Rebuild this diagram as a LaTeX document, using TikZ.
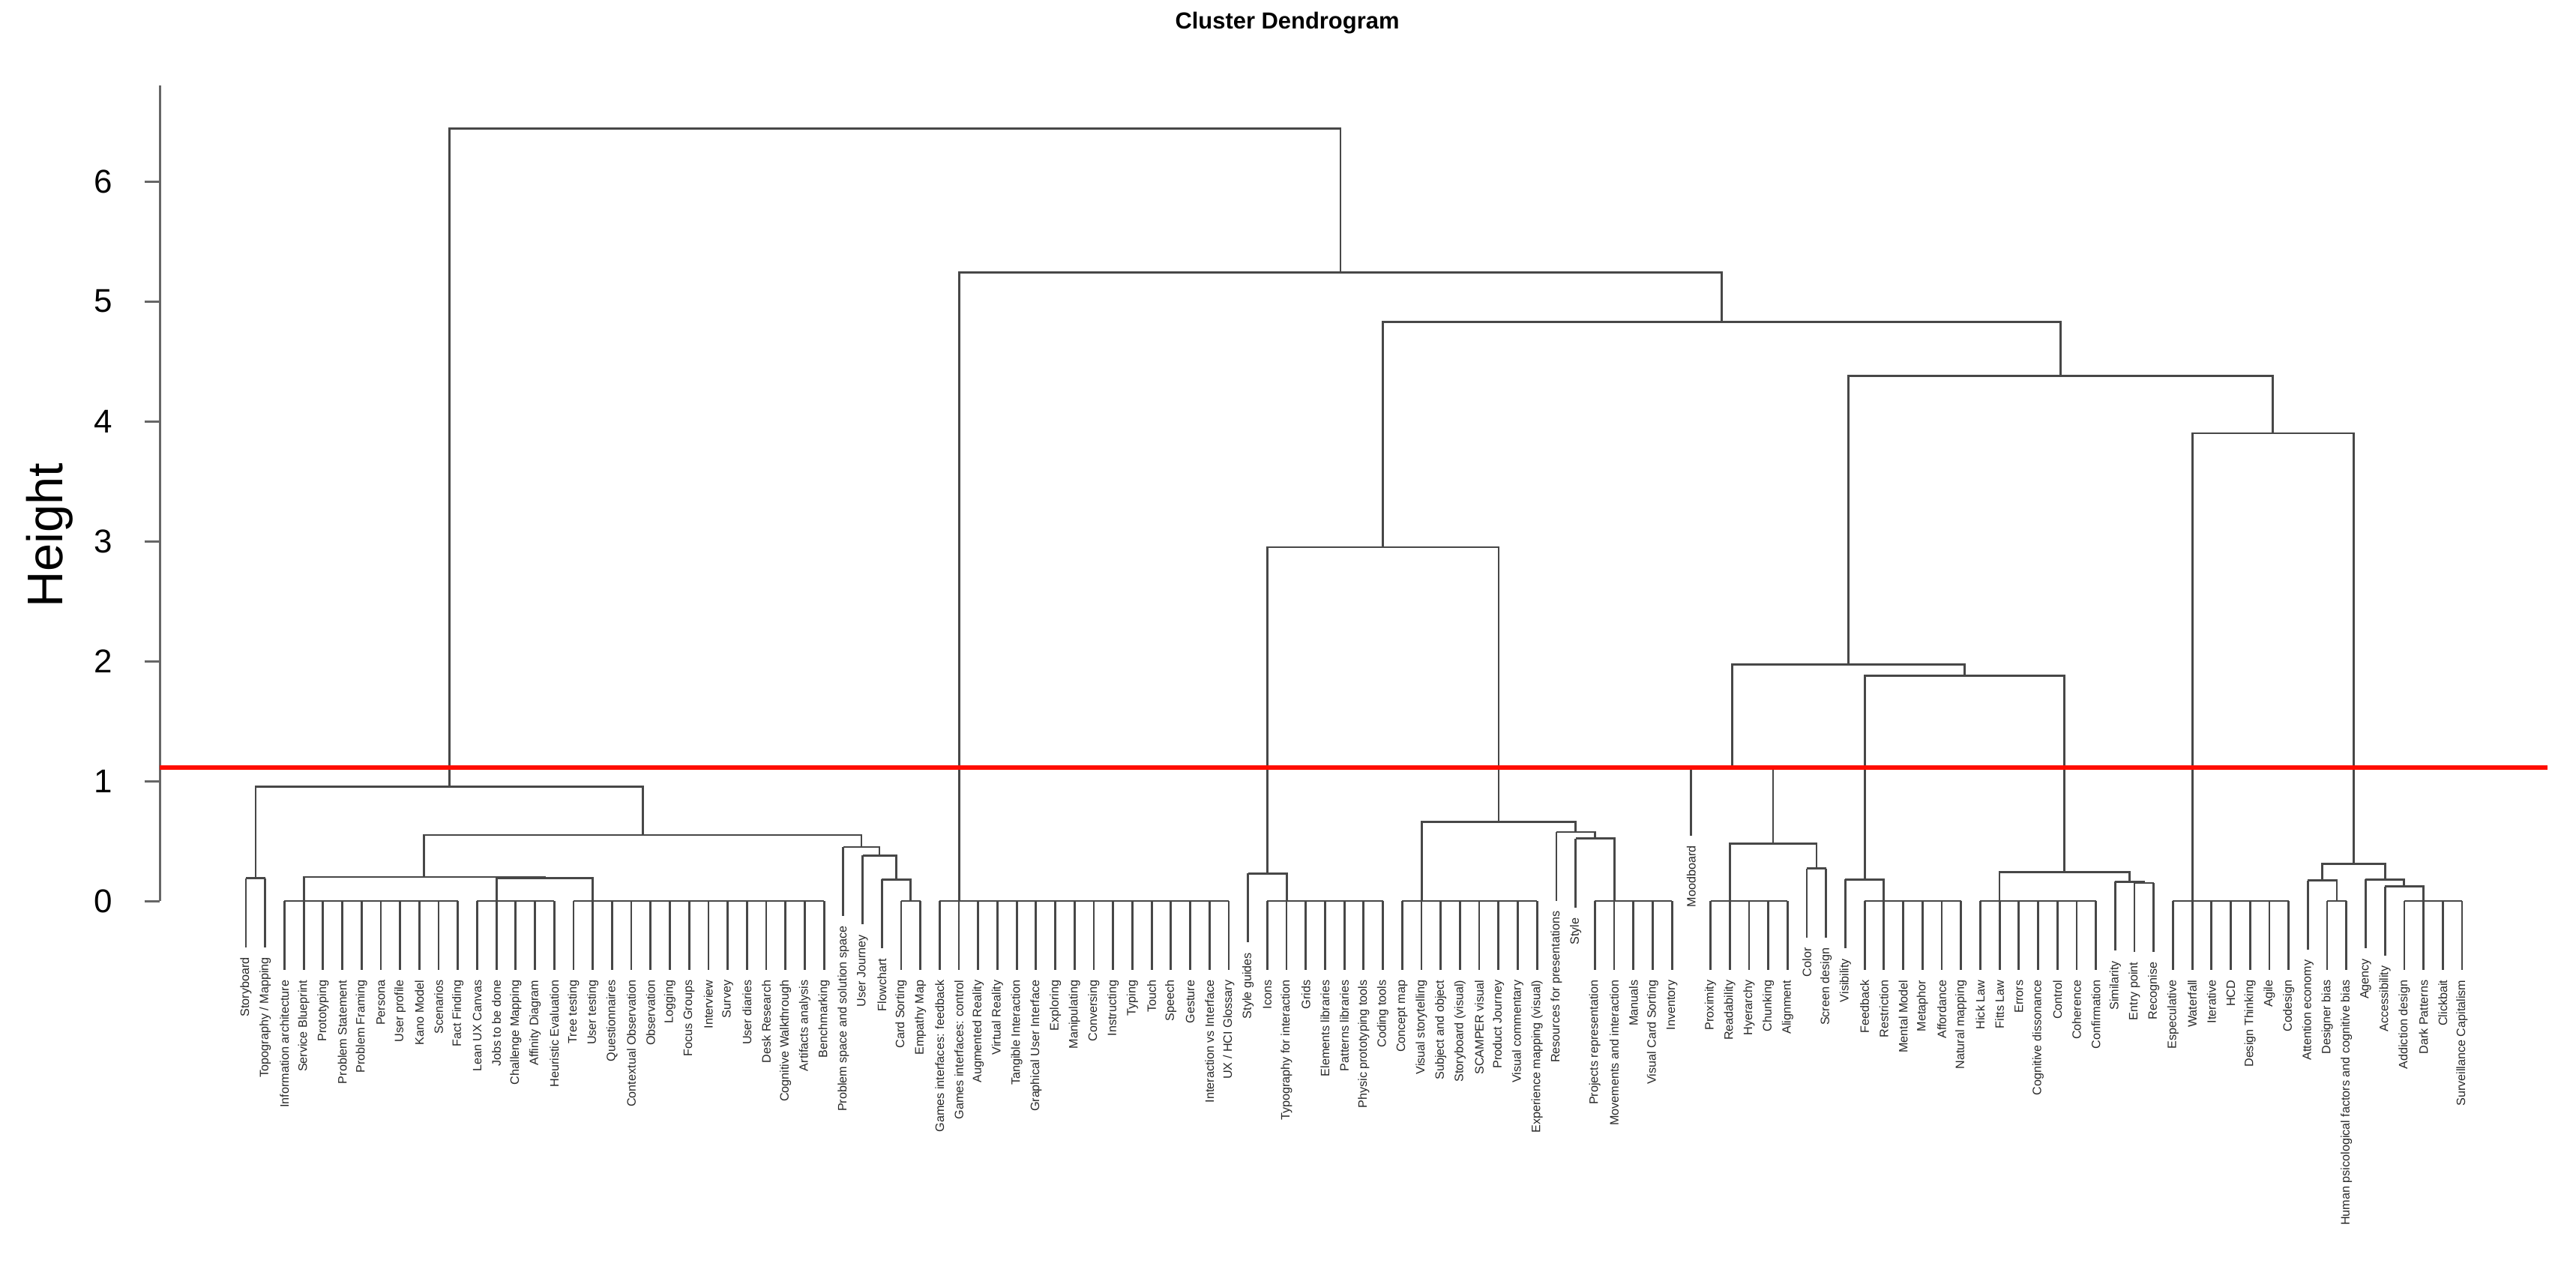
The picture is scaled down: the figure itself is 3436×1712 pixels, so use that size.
\documentclass[tikz,border=0pt]{standalone}
\usepackage{fontspec}
\setmainfont{Liberation Sans}
\begin{document}
\begin{tikzpicture}[x=0.1mm,y=-0.1mm,
  br/.style={draw=black!72,line width=0.28mm},
  lab/.style={rotate=90,anchor=east,inner sep=0pt,font=\fontsize{4.6pt}{5pt}\selectfont,text=black!85},
  tick/.style={font=\fontsize{12.5pt}{14pt}\selectfont},
  cut/.style={draw=red!90!orange,line width=0.65mm}]
\useasboundingbox (0,0) rectangle (3436,1712);
\newcommand\LX[1]{328+(#1-1)*25.704}
\newcommand\lf[3]{\draw[br] ({\LX{#1}},{1202-160*#2}) -- ({\LX{#1}},{1294-160*#2});
  \node[lab] (n#1) at ({\LX{#1}},{1307-160*#2}) {#3};}
\newcommand\grp[2]{\draw[br] ({\LX{#1}},1202) -- ({\LX{#2}},1202);}
\newcommand\mg[5]{\draw[br] ({#1},{1202-160*#2}) |- ({#3},{1202-160*#5}) -- ({#3},{1202-160*#4});}
% title and axis
\node[font=\bfseries\fontsize{8.8pt}{10pt}\selectfont] (title) at (1717,31) {Cluster Dendrogram};
\node[rotate=90,font=\fontsize{19pt}{22pt}\selectfont] (ylab) at (66,714) {Height};
\draw[draw=black!60,line width=0.3mm] (213,1202) -- (213,114);
\foreach \v in {0,...,6}{
  \draw[draw=black!60,line width=0.3mm] (193,{1202-160*\v}) -- (213,{1202-160*\v});
  \node[tick] (t\v) at (138,{1202-160*\v}) {\v};}
% leaves
\lf{1}{0.19}{Storyboard}
\lf{2}{0.19}{Topography / Mapping}
\lf{3}{0}{Information architecture}
\lf{4}{0}{Service Blueprint}
\lf{5}{0}{Prototyping}
\lf{6}{0}{Problem Statement}
\lf{7}{0}{Problem Framing}
\lf{8}{0}{Persona}
\lf{9}{0}{User profile}
\lf{10}{0}{Kano Model}
\lf{11}{0}{Scenarios}
\lf{12}{0}{Fact Finding}
\lf{13}{0}{Lean UX Canvas}
\lf{14}{0}{Jobs to be done}
\lf{15}{0}{Challenge Mapping}
\lf{16}{0}{Affinity Diagram}
\lf{17}{0}{Heuristic Evaluation}
\lf{18}{0}{Tree testing}
\lf{19}{0}{User testing}
\lf{20}{0}{Questionnaires}
\lf{21}{0}{Contextual Observation}
\lf{22}{0}{Observation}
\lf{23}{0}{Logging}
\lf{24}{0}{Focus Groups}
\lf{25}{0}{Interview}
\lf{26}{0}{Survey}
\lf{27}{0}{User diaries}
\lf{28}{0}{Desk Research}
\lf{29}{0}{Cognitive Walkthrough}
\lf{30}{0}{Artifacts analysis}
\lf{31}{0}{Benchmarking}
\lf{32}{0.45}{Problem space and solution space}
\lf{33}{0.38}{User Journey}
\lf{34}{0.18}{Flowchart}
\lf{35}{0}{Card Sorting}
\lf{36}{0}{Empathy Map}
\lf{37}{0}{Games interfaces: feedback}
\lf{38}{0}{Games interfaces: control}
\lf{39}{0}{Augmented Reality}
\lf{40}{0}{Virtual Reality}
\lf{41}{0}{Tangible Interaction}
\lf{42}{0}{Graphical User Interface}
\lf{43}{0}{Exploring}
\lf{44}{0}{Manipulating}
\lf{45}{0}{Conversing}
\lf{46}{0}{Instructing}
\lf{47}{0}{Typing}
\lf{48}{0}{Touch}
\lf{49}{0}{Speech}
\lf{50}{0}{Gesture}
\lf{51}{0}{Interaction vs Interface}
\lf{52}{0}{UX / HCI Glossary}
\lf{53}{0.23}{Style guides}
\lf{54}{0}{Icons}
\lf{55}{0}{Typography for interaction}
\lf{56}{0}{Grids}
\lf{57}{0}{Elements libraries}
\lf{58}{0}{Patterns libraries}
\lf{59}{0}{Physic prototyping tools}
\lf{60}{0}{Coding tools}
\lf{61}{0}{Concept map}
\lf{62}{0}{Visual storytelling}
\lf{63}{0}{Subject and object}
\lf{64}{0}{Storyboard (visual)}
\lf{65}{0}{SCAMPER visual}
\lf{66}{0}{Product Journey}
\lf{67}{0}{Visual commentary}
\lf{68}{0}{Experience mapping (visual)}
\lf{69}{0.575}{Resources for presentations}
\lf{70}{0.52}{Style}
\lf{71}{0}{Projects representation}
\lf{72}{0}{Movements and interaction}
\lf{73}{0}{Manuals}
\lf{74}{0}{Visual Card Sorting}
\lf{75}{0}{Inventory}
\lf{76}{1.12}{Moodboard}
\lf{77}{0}{Proximity}
\lf{78}{0}{Readability}
\lf{79}{0}{Hyerarchy}
\lf{80}{0}{Chunking}
\lf{81}{0}{Alignment}
\lf{82}{0.27}{Color}
\lf{83}{0.27}{Screen design}
\lf{84}{0.18}{Visibility}
\lf{85}{0}{Feedback}
\lf{86}{0}{Restriction}
\lf{87}{0}{Mental Model}
\lf{88}{0}{Metaphor}
\lf{89}{0}{Affordance}
\lf{90}{0}{Natural mapping}
\lf{91}{0}{Hick Law}
\lf{92}{0}{Fitts Law}
\lf{93}{0}{Errors}
\lf{94}{0}{Cognitive dissonance}
\lf{95}{0}{Control}
\lf{96}{0}{Coherence}
\lf{97}{0}{Confirmation}
\lf{98}{0.16}{Similarity}
\lf{99}{0.15}{Entry point}
\lf{100}{0.15}{Recognise}
\lf{101}{0}{Especulative}
\lf{102}{0}{Waterfall}
\lf{103}{0}{Iterative}
\lf{104}{0}{HCD}
\lf{105}{0}{Design Thinking}
\lf{106}{0}{Agile}
\lf{107}{0}{Codesign}
\lf{108}{0.17}{Attention economy}
\lf{109}{0}{Designer bias}
\lf{110}{0}{Human psicological factors and cognitive bias}
\lf{111}{0.18}{Agency}
\lf{112}{0.12}{Accessibility}
\lf{113}{0}{Addiction design}
\lf{114}{0}{Dark Patterns}
\lf{115}{0}{Clickbait}
\lf{116}{0}{Surveillance Capitalism}
% zero-height groups
\grp{3}{12}\grp{13}{17}\grp{18}{31}\grp{35}{36}\grp{37}{52}\grp{54}{60}
\grp{61}{68}\grp{71}{75}\grp{77}{81}\grp{85}{90}\grp{91}{97}\grp{101}{107}
\grp{109}{110}\grp{113}{116}
% merges left
\mg{328}{0.19}{353.7}{0.19}{0.19}
\mg{662.1}{0}{790.7}{0}{0.19}
\mg{405.1}{0}{726.4}{0.19}{0.20}
\mg{1176.2}{0.18}{1214.8}{0}{0.18}
\mg{1150.5}{0.38}{1195.5}{0.18}{0.38}
\mg{1124.8}{0.45}{1173.0}{0.38}{0.45}
\mg{565.8}{0.20}{1148.9}{0.45}{0.55}
\mg{340.9}{0.19}{857.4}{0.55}{0.955}
% merges right
\mg{1664.8}{0.23}{1716.2}{0}{0.23}
\mg{2101.7}{0.52}{2153.1}{0}{0.52}
\mg{2076.0}{0.575}{2127.4}{0.52}{0.575}
\mg{1896.1}{0}{2101.7}{0.575}{0.66}
\mg{1690.5}{0.23}{1998.9}{0.66}{2.95}
\mg{2410.0}{0.27}{2435.7}{0.27}{0.27}
\mg{2307.2}{0}{2422.9}{0.27}{0.48}
\mg{2255.8}{1.12}{2365.0}{0.48}{1.12}
\mg{2461.4}{0.18}{2512.8}{0}{0.18}
\mg{2846.9}{0.15}{2872.6}{0.15}{0.15}
\mg{2821.2}{0.16}{2859.8}{0.15}{0.16}
\mg{2666.9}{0}{2840.5}{0.16}{0.24}
\mg{2487.1}{0.18}{2753.7}{0.24}{1.88}
\mg{2310.4}{1.12}{2620.4}{1.88}{1.97}
\mg{3078.3}{0.17}{3116.9}{0}{0.17}
\mg{3181.1}{0.12}{3232.5}{0}{0.12}
\mg{3155.4}{0.18}{3206.8}{0.12}{0.18}
\mg{3097.6}{0.17}{3181.1}{0.18}{0.31}
\mg{2924.1}{0}{3139.4}{0.31}{3.9}
\mg{2465.4}{1.97}{3031.7}{3.9}{4.38}
\mg{1844.7}{2.95}{2748.6}{4.38}{4.83}
\mg{1279.1}{0}{2296.6}{4.83}{5.24}
\mg{599.1}{0.955}{1787.9}{5.24}{6.44}
% cut line
\coordinate (c1) at (213,1024);
\coordinate (c2) at (3398,1024);
\draw[cut] (c1) -- (c2);
\end{tikzpicture}
\end{document}
